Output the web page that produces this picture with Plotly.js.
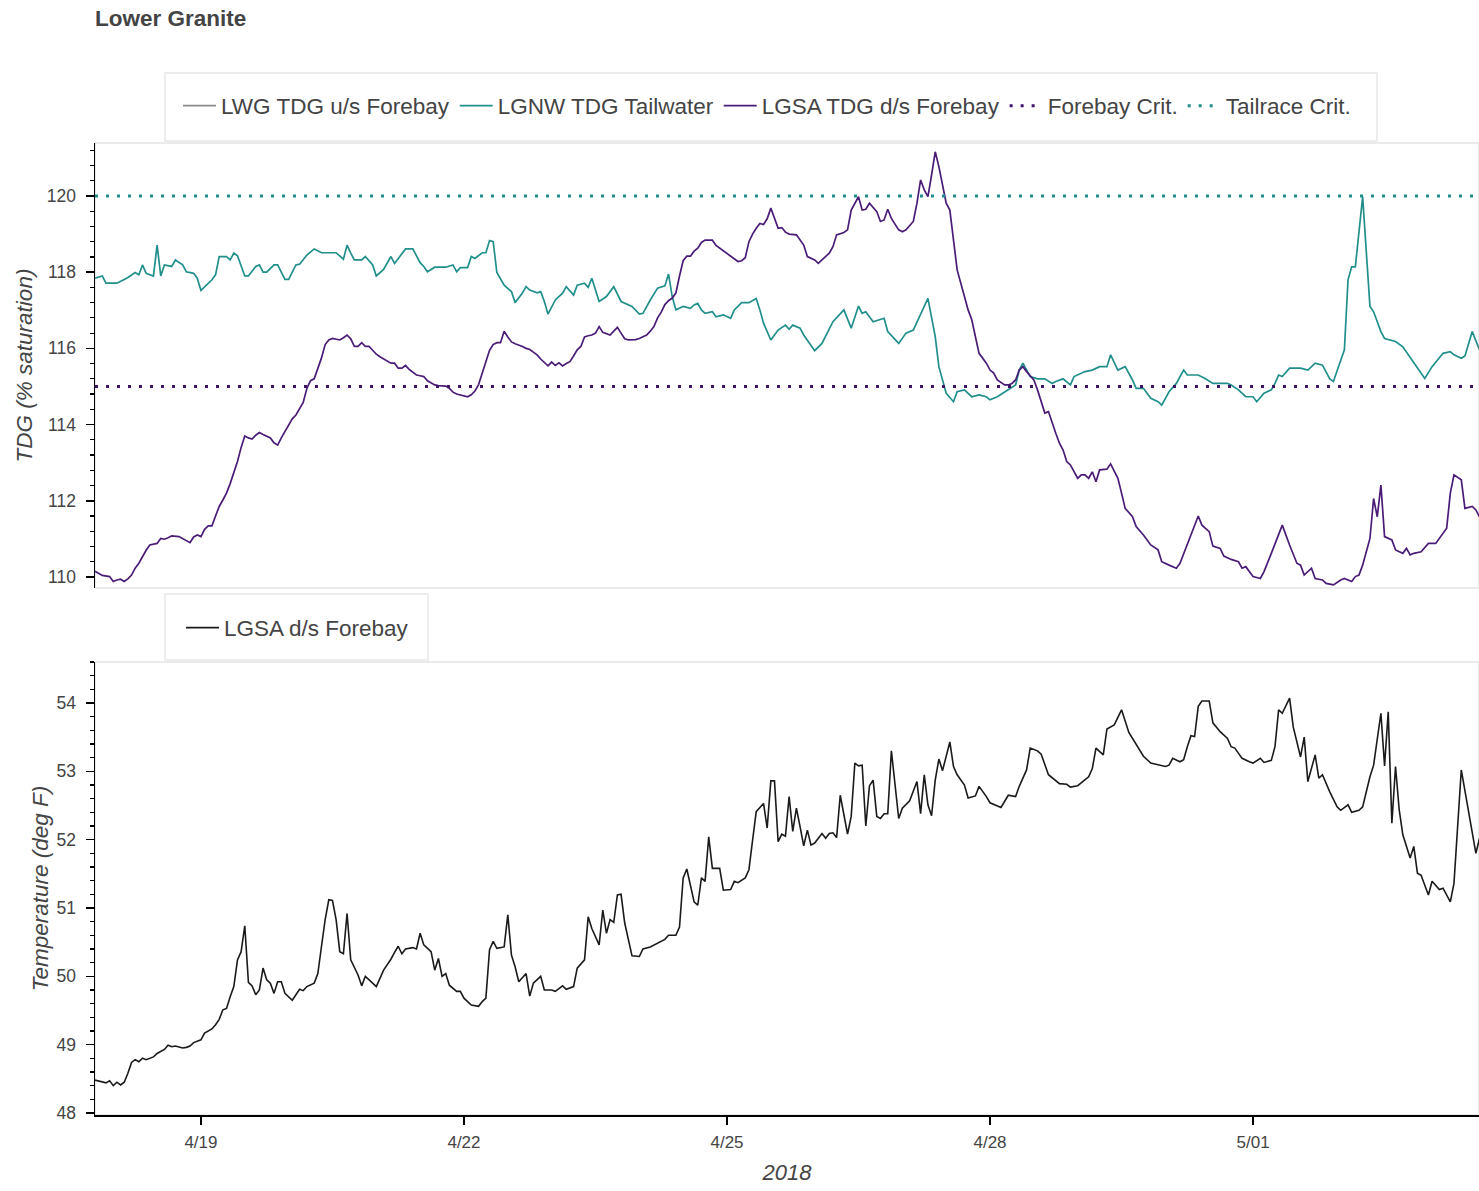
<!DOCTYPE html>
<html>
<head>
<meta charset="utf-8">
<script src="https://cdn.plot.ly/plotly-3.0.1.min.js"></script>
<style>
  html, body { margin: 0; padding: 0; background: #fff; overflow: hidden; }
  #chart { width: 1479px; height: 1191px; }
</style>
</head>
<body>
<div id="chart"></div>
<script>
// ---- DATA (time in hours since 2018-04-17 00:00) ----
const chartTitle = 'Lower Granite';
const seriesNames = ['LWG TDG u/s Forebay', 'LGNW TDG Tailwater', 'LGSA TDG d/s Forebay', 'Forebay Crit.', 'Tailrace Crit.'];
const tempName = 'LGSA d/s Forebay';

// LWG TDG u/s Forebay: no values shown in the chart
const lwgForebayTDG = [];

// LGNW TDG Tailwater [hour, % saturation]
const lgnwTailwaterTDG = [[19,117.84],[21,117.90],[22,117.71],[25,117.71],[27,117.81],[28,117.86],[30,117.99],[31,117.93],[32,118.19],[33,117.97],[35,117.90],[36,118.71],[37,117.90],[38,118.19],[40,118.15],[41,118.32],[43,118.19],[44,118.01],[46,117.97],[47,117.84],[48,117.52],[49,117.62],[51,117.80],[52,117.93],[53,118.41],[55,118.41],[56,118.32],[57,118.50],[58,118.43],[60,117.90],[61,117.90],[63,118.15],[64,118.19],[65,118.00],[66,118.00],[68,118.19],[69,118.19],[71,117.81],[72,117.81],[74,118.19],[75,118.21],[77,118.45],[79,118.61],[81,118.51],[85,118.51],[87,118.34],[88,118.71],[89,118.50],[90,118.32],[92,118.32],[93,118.41],[95,118.19],[96,117.90],[98,118.07],[100,118.41],[101,118.23],[103,118.50],[104,118.61],[106,118.61],[108,118.25],[109,118.15],[110,118.01],[112,118.13],[115,118.13],[117,118.19],[118,118.01],[119,118.12],[121,118.12],[122,118.41],[123,118.36],[125,118.51],[126,118.51],[127,118.83],[128,118.80],[129,117.99],[131,117.66],[133,117.49],[134,117.20],[136,117.45],[137,117.62],[138,117.53],[140,117.46],[141,117.49],[142,117.23],[143,116.90],[145,117.27],[147,117.45],[148,117.62],[150,117.40],[151,117.66],[153,117.71],[154,117.60],[155,117.84],[157,117.23],[159,117.36],[161,117.62],[163,117.23],[164,117.18],[166,117.10],[168,116.90],[169,116.92],[171,117.27],[173,117.58],[175,117.64],[176,117.95],[177,117.36],[178,117.01],[180,117.10],[182,117.05],[183,117.14],[184,117.18],[185,117.01],[186,116.92],[188,116.96],[189,116.83],[191,116.88],[193,116.79],[194,117.01],[196,117.20],[198,117.20],[200,117.31],[201,117.01],[202,116.66],[204,116.22],[206,116.48],[208,116.61],[209,116.50],[210,116.61],[212,116.53],[213,116.35],[216,115.94],[218,116.13],[219,116.31],[221,116.70],[224,117.01],[226,116.53],[228,117.11],[229,116.92],[230,116.96],[232,116.70],[235,116.79],[236,116.44],[239,116.13],[241,116.40],[243,116.48],[245,116.88],[247,117.31],[249,116.31],[250,115.52],[252,114.82],[254,114.60],[255,114.86],[257,114.91],[259,114.73],[261,114.78],[263,114.73],[264,114.65],[266,114.73],[269,114.91],[271,115.04],[272,115.43],[273,115.61],[275,115.26],[277,115.20],[279,115.20],[281,115.08],[282,115.13],[284,115.20],[286,115.04],[287,115.26],[290,115.39],[292,115.43],[294,115.52],[296,115.52],[297,115.83],[299,115.43],[301,115.52],[303,115.17],[304,114.95],[306,114.95],[308,114.69],[310,114.60],[311,114.51],[313,114.86],[315,115.08],[317,115.43],[318,115.30],[321,115.30],[323,115.20],[325,115.08],[329,115.08],[330,115.04],[332,114.91],[334,114.73],[336,114.73],[337,114.60],[339,114.82],[341,114.91],[342,115.08],[343,115.30],[344,115.26],[346,115.48],[349,115.48],[351,115.43],[353,115.61],[355,115.56],[357,115.20],[358,115.13],[361,115.96],[362,117.80],[363,118.14],[364,118.14],[366,119.98],[368,117.10],[369,116.96],[371,116.44],[372,116.26],[375,116.18],[377,116.04],[380,115.61],[383,115.21],[385,115.52],[388,115.87],[390,115.91],[391,115.83],[393,115.74],[394,115.80],[396,116.44],[398,115.96]];

// LGSA TDG d/s Forebay [hour, % saturation]
const lgsaForebayTDG = [[19,110.15],[21,110.04],[23,110.01],[24,109.88],[25,109.92],[26,109.94],[27,109.88],[28,109.95],[29,110.05],[30,110.23],[31,110.36],[32,110.55],[33,110.70],[34,110.84],[35,110.86],[36,110.88],[37,111.01],[38,110.99],[39,111.03],[40,111.08],[42,111.06],[43,111.00],[44,110.95],[45,110.90],[46,111.05],[47,111.10],[48,111.06],[49,111.25],[50,111.34],[51,111.34],[52,111.60],[53,111.85],[54,112.02],[55,112.20],[56,112.45],[57,112.75],[58,113.03],[59,113.40],[60,113.70],[61,113.65],[62,113.62],[63,113.72],[64,113.79],[65,113.74],[66,113.70],[67,113.65],[68,113.52],[69,113.46],[70,113.65],[71,113.83],[72,114.00],[73,114.15],[74,114.25],[75,114.40],[76,114.58],[77,114.95],[78,115.15],[79,115.20],[80,115.45],[81,115.75],[82,116.10],[83,116.22],[84,116.26],[85,116.23],[86,116.22],[87,116.28],[88,116.35],[89,116.25],[90,116.05],[91,116.05],[92,116.15],[93,116.05],[94,116.05],[95,115.95],[96,115.85],[97,115.78],[98,115.72],[99,115.65],[100,115.61],[101,115.61],[102,115.48],[103,115.48],[104,115.55],[105,115.45],[106,115.37],[107,115.30],[108,115.28],[109,115.26],[110,115.15],[111,115.10],[112,115.04],[113,115.02],[114,115.01],[115,115.01],[116,114.95],[117,114.85],[118,114.80],[119,114.78],[120,114.75],[121,114.73],[122,114.78],[123,114.88],[124,115.05],[125,115.35],[126,115.70],[127,115.95],[128,116.10],[129,116.15],[130,116.15],[131,116.45],[132,116.30],[133,116.17],[134,116.12],[135,116.09],[136,116.05],[137,116.00],[138,115.97],[139,115.90],[140,115.83],[141,115.72],[142,115.62],[143,115.54],[144,115.64],[145,115.55],[146,115.62],[147,115.54],[148,115.60],[149,115.65],[150,115.80],[151,115.96],[152,116.05],[153,116.30],[154,116.33],[155,116.35],[156,116.40],[157,116.57],[158,116.42],[159,116.38],[160,116.35],[161,116.45],[162,116.55],[163,116.40],[164,116.25],[165,116.22],[166,116.22],[167,116.23],[168,116.26],[169,116.30],[170,116.35],[171,116.45],[172,116.57],[173,116.80],[174,116.95],[175,117.15],[176,117.25],[177,117.32],[178,117.45],[179,117.90],[180,118.30],[181,118.42],[182,118.42],[183,118.55],[184,118.63],[185,118.78],[186,118.84],[187,118.84],[188,118.84],[189,118.70],[190,118.63],[191,118.55],[192,118.48],[193,118.42],[194,118.35],[195,118.28],[196,118.30],[197,118.38],[198,118.80],[199,119.00],[200,119.15],[201,119.28],[202,119.25],[203,119.40],[204,119.68],[205,119.40],[206,119.15],[207,119.17],[208,119.05],[209,119.00],[211,118.98],[213,118.71],[214,118.41],[216,118.32],[217,118.23],[218,118.32],[220,118.50],[221,118.67],[222,118.98],[224,119.04],[225,119.11],[226,119.63],[228,119.98],[229,119.63],[230,119.65],[231,119.81],[233,119.59],[234,119.33],[235,119.37],[236,119.65],[237,119.41],[239,119.11],[240,119.06],[241,119.11],[243,119.33],[244,119.81],[245,120.42],[246,120.16],[247,119.98],[248,120.55],[249,121.16],[250,120.77],[251,120.24],[252,119.81],[253,119.63],[254,118.85],[255,118.06],[257,117.36],[258,117.01],[259,116.75],[260,116.31],[261,115.87],[263,115.61],[264,115.43],[265,115.35],[266,115.17],[268,115.04],[269,115.04],[270,115.08],[271,115.17],[272,115.43],[273,115.52],[274,115.39],[276,115.17],[277,114.91],[279,114.30],[280,114.34],[281,114.03],[282,113.77],[283,113.51],[284,113.33],[285,113.03],[286,112.94],[288,112.59],[289,112.68],[290,112.68],[291,112.59],[292,112.76],[293,112.50],[294,112.81],[296,112.83],[297,112.97],[299,112.59],[300,112.20],[301,111.80],[303,111.58],[304,111.32],[306,111.10],[308,110.84],[310,110.71],[311,110.40],[313,110.31],[315,110.23],[316,110.36],[318,110.84],[320,111.36],[321,111.60],[322,111.36],[324,111.19],[325,110.81],[327,110.75],[328,110.55],[330,110.46],[332,110.40],[333,110.23],[334,110.27],[336,110.01],[338,109.96],[339,110.14],[341,110.62],[343,111.10],[344,111.36],[346,110.84],[348,110.36],[349,110.31],[350,110.05],[352,110.23],[353,109.96],[355,109.92],[356,109.83],[358,109.79],[360,109.92],[361,109.96],[363,109.88],[364,110.01],[365,110.05],[366,110.31],[368,111.01],[369,112.06],[370,111.58],[371,112.41],[372,111.06],[374,110.97],[375,110.71],[377,110.62],[378,110.75],[379,110.58],[380,110.62],[382,110.66],[384,110.88],[386,110.88],[387,111.01],[389,111.28],[390,112.20],[391,112.68],[393,112.55],[394,111.80],[396,111.85],[397,111.76],[398,111.58]];

// Criteria levels (% saturation)
const forebayCrit = 115;
const tailraceCrit = 120;

// LGSA d/s Forebay temperature [hour, deg F]
const lgsaForebayTemp = [[19,48.48],[21,48.46],[22,48.44],[23,48.47],[24,48.40],[25,48.45],[26,48.41],[27,48.45],[28,48.58],[29,48.74],[30,48.78],[31,48.75],[32,48.80],[33,48.78],[35,48.82],[36,48.87],[38,48.93],[39,48.99],[40,48.97],[41,48.98],[43,48.95],[44,48.96],[45,48.98],[46,49.03],[48,49.07],[49,49.17],[51,49.23],[52,49.29],[53,49.37],[54,49.51],[55,49.53],[56,49.70],[57,49.85],[58,50.24],[59,50.36],[60,50.74],[61,49.91],[62,49.86],[63,49.73],[64,49.80],[65,50.12],[66,49.95],[67,49.90],[68,49.75],[69,49.92],[70,49.92],[71,49.75],[73,49.65],[75,49.81],[76,49.79],[77,49.85],[79,49.90],[80,50.04],[81,50.44],[82,50.83],[83,51.12],[84,51.11],[85,50.83],[86,50.36],[87,50.33],[88,50.92],[89,50.24],[91,50.02],[92,49.86],[93,50.00],[95,49.90],[96,49.85],[98,50.09],[100,50.25],[101,50.35],[102,50.44],[103,50.33],[104,50.40],[106,50.42],[107,50.40],[108,50.63],[109,50.46],[111,50.36],[112,50.09],[113,50.26],[114,50.00],[115,50.04],[116,49.87],[118,49.78],[119,49.78],[120,49.68],[122,49.58],[124,49.56],[125,49.63],[126,49.68],[127,50.39],[128,50.51],[129,50.41],[131,50.43],[132,50.90],[133,50.31],[134,50.14],[135,49.92],[137,50.04],[138,49.71],[139,49.90],[141,50.00],[142,49.80],[144,49.80],[145,49.78],[147,49.86],[148,49.81],[150,49.85],[151,50.12],[153,50.24],[154,50.87],[155,50.70],[157,50.46],[158,50.97],[159,50.63],[160,50.83],[161,50.79],[162,51.19],[163,51.20],[164,50.78],[166,50.30],[168,50.29],[169,50.40],[171,50.43],[173,50.48],[175,50.54],[176,50.60],[178,50.60],[179,50.72],[180,51.44],[181,51.57],[183,51.09],[184,51.04],[185,51.44],[186,51.39],[187,52.04],[188,51.58],[190,51.58],[191,51.26],[193,51.27],[194,51.39],[195,51.37],[197,51.44],[198,51.56],[199,51.99],[200,52.41],[202,52.53],[203,52.17],[204,52.86],[205,52.86],[206,51.97],[207,52.08],[208,52.05],[209,52.63],[210,52.12],[211,52.46],[212,52.19],[213,51.91],[214,52.14],[215,51.92],[216,51.95],[218,52.09],[219,52.02],[220,52.09],[221,52.10],[222,52.03],[223,52.65],[224,52.34],[225,52.08],[226,52.34],[227,53.12],[228,53.08],[229,53.09],[230,52.20],[231,52.79],[232,52.87],[233,52.34],[234,52.31],[235,52.38],[236,52.38],[237,53.30],[239,52.31],[240,52.46],[242,52.57],[244,52.85],[245,52.38],[246,52.95],[247,52.51],[248,52.35],[249,52.87],[250,53.18],[251,53.01],[252,53.22],[253,53.43],[254,53.07],[255,52.95],[257,52.80],[258,52.61],[260,52.64],[261,52.78],[263,52.63],[264,52.54],[267,52.47],[268,52.56],[269,52.65],[271,52.63],[272,52.78],[274,53.02],[275,53.34],[277,53.30],[278,53.25],[280,52.95],[282,52.87],[283,52.82],[285,52.81],[286,52.77],[288,52.79],[291,52.92],[292,53.04],[293,53.34],[295,53.24],[296,53.62],[298,53.68],[300,53.90],[302,53.57],[304,53.39],[306,53.22],[308,53.12],[310,53.09],[312,53.07],[313,53.09],[314,53.19],[316,53.14],[317,53.17],[318,53.36],[319,53.52],[320,53.51],[321,53.95],[322,54.03],[324,54.03],[325,53.71],[327,53.58],[329,53.48],[330,53.36],[331,53.34],[333,53.19],[335,53.14],[336,53.12],[338,53.19],[339,53.13],[341,53.16],[342,53.36],[343,53.90],[344,53.85],[346,54.07],[347,53.65],[349,53.21],[350,53.50],[351,52.85],[353,53.24],[354,52.90],[355,52.95],[357,52.70],[359,52.48],[360,52.43],[362,52.51],[363,52.40],[365,52.43],[366,52.48],[368,52.92],[369,53.09],[371,53.85],[372,53.08],[373,53.87],[374,52.24],[375,53.07],[376,52.44],[377,52.07],[379,51.73],[380,51.90],[381,51.51],[382,51.48],[384,51.19],[385,51.39],[387,51.27],[388,51.29],[390,51.09],[391,51.36],[393,53.02],[395,52.41],[396,52.14],[397,51.80],[398,52.02]];

const xTitle = '2018';
const y1Title = 'TDG (% saturation)';
const y2Title = 'Temperature (deg F)';

// ---- helpers ----
function hToDate(h) {
  const d = new Date(Date.UTC(2018, 3, 17, 0, 0, 0) + h * 3600000);
  return d.toISOString().replace('T', ' ').slice(0, 19);
}
// an empty series still needs one (blank) entry so that it keeps its legend item
const xs = arr => arr.length ? arr.map(p => hToDate(p[0])) : [null];
const ys = arr => arr.length ? arr.map(p => p[1]) : [null];

const FONT = 'Liberation Sans, Arial, Helvetica, sans-serif';
const TXT = '#444444';
const TEAL = '#208F8C';
const PURPLE = '#4a1c78';
const CRIT_PURPLE = '#3d1466';

const firstH = lgnwTailwaterTDG[0][0];
const lastH = lgnwTailwaterTDG[lgnwTailwaterTDG.length - 1][0];

const traces = [
  { x: xs(lwgForebayTDG), y: ys(lwgForebayTDG), name: seriesNames[0], type: 'scatter', mode: 'lines',
    line: { color: '#8a8a8a', width: 1.6 }, xaxis: 'x', yaxis: 'y', legend: 'legend' },
  { x: xs(lgnwTailwaterTDG), y: ys(lgnwTailwaterTDG), name: seriesNames[1], type: 'scatter', mode: 'lines',
    line: { color: TEAL, width: 1.7 }, xaxis: 'x', yaxis: 'y', legend: 'legend' },
  { x: xs(lgsaForebayTDG), y: ys(lgsaForebayTDG), name: seriesNames[2], type: 'scatter', mode: 'lines',
    line: { color: PURPLE, width: 1.7 }, xaxis: 'x', yaxis: 'y', legend: 'legend' },
  { x: [hToDate(firstH), hToDate(lastH)], y: [forebayCrit, forebayCrit], name: seriesNames[3], type: 'scatter', mode: 'lines',
    line: { color: CRIT_PURPLE, width: 3, dash: '3px,8px' }, xaxis: 'x', yaxis: 'y', legend: 'legend' },
  { x: [hToDate(firstH), hToDate(lastH)], y: [tailraceCrit, tailraceCrit], name: seriesNames[4], type: 'scatter', mode: 'lines',
    line: { color: TEAL, width: 3, dash: '3px,8px' }, xaxis: 'x', yaxis: 'y', legend: 'legend' },
  { x: xs(lgsaForebayTemp), y: ys(lgsaForebayTemp), name: tempName, type: 'scatter', mode: 'lines',
    line: { color: '#1a1a1a', width: 1.6 }, xaxis: 'x', yaxis: 'y2', legend: 'legend2' }
];

const W = 1479, H = 1191, L = 95;
const px = v => (v - L) / (W - L);
const py = v => (H - v) / H;

const yAxisCommon = {
  anchor: 'x', showline: true, linecolor: '#000', linewidth: 1.5,
  ticks: 'outside', ticklen: 8, tickwidth: 1.5, tickcolor: '#000',
  showgrid: false, zeroline: false, automargin: false,
  tickfont: { family: FONT, size: 17.5, color: TXT },
  ticklabelstandoff: 6
};

const layout = {
  width: W, height: H,
  margin: { l: L, r: 0, t: 0, b: 0, pad: 0 },
  paper_bgcolor: '#ffffff', plot_bgcolor: '#ffffff',
  font: { family: FONT, color: TXT },
  showlegend: true,
  title: { text: chartTitle, x: 0, xref: 'paper', xanchor: 'left', y: py(18), yref: 'paper', yanchor: 'middle',
           font: { family: FONT, size: 22.5, color: TXT, weight: 'bold' } },
  xaxis: {
    type: 'date', anchor: 'y2', domain: [0, 1],
    range: ['2018-04-17 19:00', '2018-05-03 13:51'],
    showline: true, linecolor: '#000', linewidth: 1.5,
    ticks: 'outside', ticklen: 8, tickwidth: 1.5, tickcolor: '#000',
    tick0: '2018-04-19', dtick: 3 * 86400000, tickformat: '%-m/%d',
    showgrid: false, zeroline: false, automargin: false,
    tickfont: { family: FONT, size: 17, color: TXT },
    ticklabelstandoff: 3,
    title: { text: xTitle, font: { family: FONT, size: 22, color: TXT, style: 'italic' }, standoff: 13 }
  },
  yaxis: Object.assign({}, yAxisCommon, {
    domain: [py(588), py(143)], range: [109.71, 121.39],
    tick0: 110, dtick: 2,
    minor: { tick0: 110, dtick: 0.4, ticks: 'outside', ticklen: 4, tickwidth: 1.2, tickcolor: '#000', showgrid: false },
    title: { text: y1Title, font: { family: FONT, size: 22.5, color: TXT, style: 'italic' }, standoff: 8 }
  }),
  yaxis2: Object.assign({}, yAxisCommon, {
    domain: [py(1115), py(662)], range: [47.97, 54.6],
    tick0: 48, dtick: 1,
    minor: { tick0: 48, dtick: 0.2, ticks: 'outside', ticklen: 4, tickwidth: 1.2, tickcolor: '#000', showgrid: false },
    title: { text: y2Title, font: { family: FONT, size: 22.5, color: TXT, style: 'italic' }, standoff: 1 }
  }),
  legend: {
    orientation: 'h', x: px(178), xanchor: 'left', y: py(106), yanchor: 'middle',
    bgcolor: 'rgba(0,0,0,0)', borderwidth: 0, itemwidth: 33,
    font: { family: FONT, size: 22.5, color: TXT }, traceorder: 'normal'
  },
  legend2: {
    orientation: 'h', x: px(181), xanchor: 'left', y: py(628), yanchor: 'middle',
    bgcolor: 'rgba(0,0,0,0)', borderwidth: 0, itemwidth: 33,
    font: { family: FONT, size: 22.5, color: TXT }
  },
  shapes: [
    // plot frames
    { type: 'rect', xref: 'paper', yref: 'paper', x0: 0, x1: 1, y0: py(588), y1: py(143),
      line: { color: '#e5e5e5', width: 1.5 }, layer: 'below' },
    { type: 'rect', xref: 'paper', yref: 'paper', x0: 0, x1: 1, y0: py(1115), y1: py(662),
      line: { color: '#e5e5e5', width: 1.5 }, layer: 'below' },
    // legend boxes
    { type: 'rect', xref: 'paper', yref: 'paper', x0: px(165), x1: px(1377), y0: py(141), y1: py(73),
      line: { color: '#e8e8e8', width: 1.5 }, fillcolor: '#ffffff', layer: 'below' },
    { type: 'rect', xref: 'paper', yref: 'paper', x0: px(165), x1: px(428), y0: py(660), y1: py(594),
      line: { color: '#e8e8e8', width: 1.5 }, fillcolor: '#ffffff', layer: 'below' }
  ]
};

Plotly.newPlot('chart', traces, layout, { displayModeBar: false, staticPlot: true });
</script>
</body>
</html>
